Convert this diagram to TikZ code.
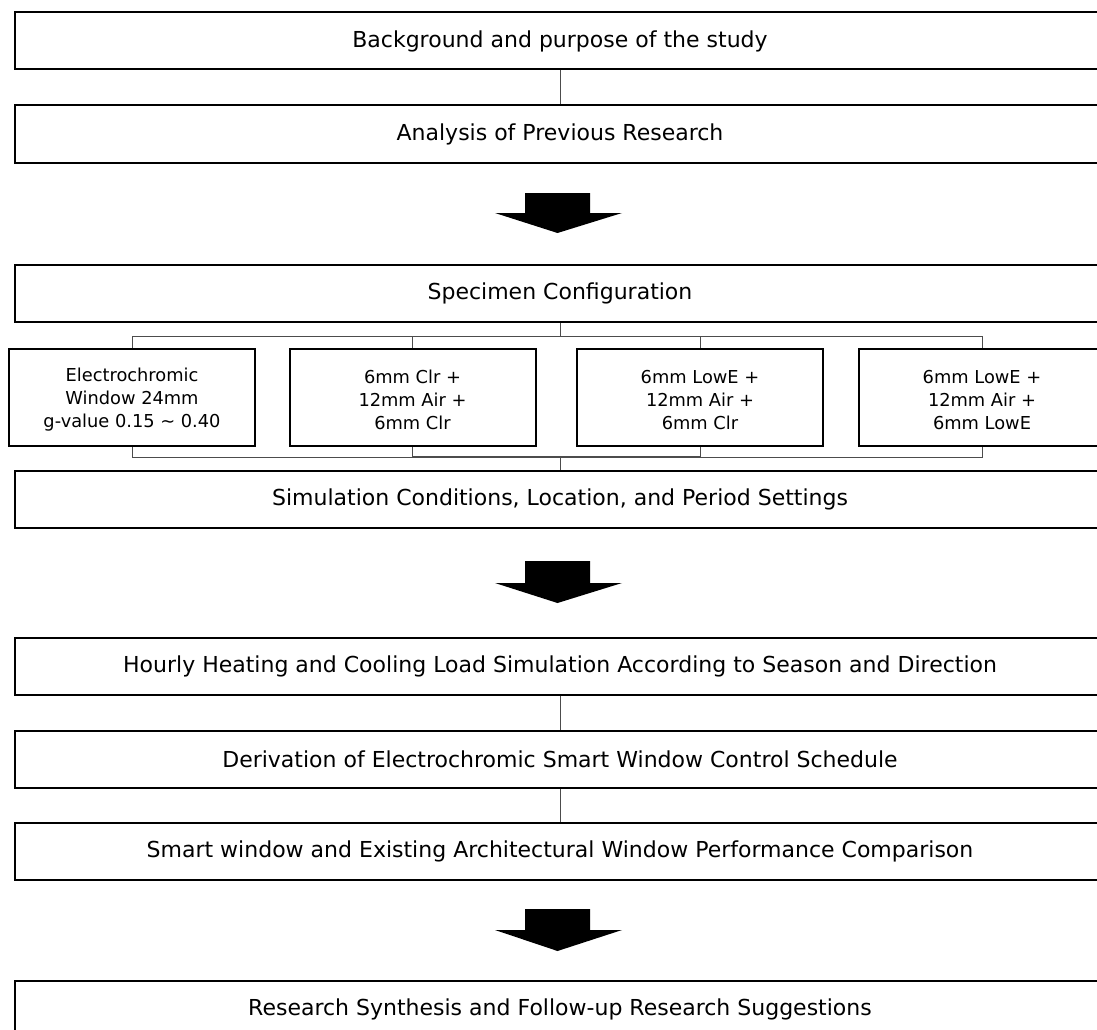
\documentclass[tikz,border=0pt]{standalone}
\usepackage{fontspec}
\setmainfont{DejaVu Sans}
\begin{document}
\begin{tikzpicture}[x=1pt,y=-1pt,
  mainbox/.style={draw=black, line width=2pt, minimum width=1090pt, minimum height=57pt, inner sep=0pt, font=\fontsize{22}{26}\selectfont},
  smallbox/.style={draw=black, line width=2pt, minimum width=246pt, minimum height=97pt, inner sep=0pt},
  smalltext/.style={align=center, inner sep=0pt, font=\fontsize{17.8}{23}\selectfont},
  conn/.style={draw=black!70, line width=1pt},
  blockarrow/.style={fill=black}
]
\useasboundingbox (0,0) rectangle (1097,1030);

% main boxes
\node[mainbox] (A) at (560,41) {Background and purpose of the study};
\node[mainbox] (B) at (560,134) {Analysis of Previous Research};
\node[mainbox] (C) at (560,293.5) {Specimen Configuration};
\node[mainbox] (D) at (560,499) {Simulation Conditions, Location, and Period Settings};
\node[mainbox] (E) at (560,666) {Hourly Heating and Cooling Load Simulation According to Season and Direction};
\node[mainbox] (F) at (560,759) {Derivation of Electrochromic Smart Window Control Schedule};
\node[mainbox] (G) at (560,851.5) {Smart window and Existing Architectural Window Performance Comparison};
\node[mainbox] (H) at (560,1009) {Research Synthesis and Follow-up Research Suggestions};

% small boxes
\node[smallbox] (s1) at (132,397.5) {};
\node[smalltext] (s1t) at (132,400) {Electrochromic\\Window 24mm\\g-value 0.15 ∼ 0.40};
\node[smallbox] (s2) at (412.5,397.5) {};
\node[smalltext] (s2t) at (412.5,400) {6mm Clr +\\12mm Air +\\6mm Clr};
\node[smallbox] (s3) at (700,397.5) {};
\node[smalltext] (s3t) at (700,400) {6mm LowE +\\12mm Air +\\6mm Clr};
\node[smallbox] (s4) at (982,397.5) {};
\node[smalltext] (s4t) at (982,400) {6mm LowE +\\12mm Air +\\6mm LowE};

% simple connectors
\draw[conn] (A.south) -- (B.north);
\draw[conn] (E.south) -- (F.north);
\draw[conn] (F.south) -- (G.north);

% bus to specimen boxes
\coordinate (tb) at (560,336);
\coordinate (bb) at (560,457);
\draw[conn] (C.south) -- (tb);
\draw[conn] (s1.north) -- (s1.north |- tb) -- (s4.north |- tb) -- (s4.north);
\draw[conn] (s2.north) -- (s2.north |- tb);
\draw[conn] (s3.north) -- (s3.north |- tb);
\draw[conn] (s1.south) -- (s1.south |- bb) -- (s4.south |- bb) -- (s4.south);
\draw[conn] (s2.south) -- (s2.south |- bb);
\draw[conn] (s3.south) -- (s3.south |- bb);
\draw[conn, line width=1.7pt] (s2.south |- bb) -- (s3.south |- bb);
\draw[conn] (bb) -- (D.north);

% block arrows
\coordinate (ar1) at (525,193);
\fill[blockarrow] (ar1) -- ++(65,0) -- ++(0,20) -- ++(32,0) -- ++(-64.5,20) -- ++(-62.5,-20) -- ++(30,0) -- cycle;
\coordinate (ar2) at (525,561);
\fill[blockarrow] (ar2) -- ++(65,0) -- ++(0,22) -- ++(32,0) -- ++(-64.5,20) -- ++(-62.5,-20) -- ++(30,0) -- cycle;
\coordinate (ar3) at (525,909);
\fill[blockarrow] (ar3) -- ++(65,0) -- ++(0,21) -- ++(32,0) -- ++(-64.5,21) -- ++(-62.5,-21) -- ++(30,0) -- cycle;
\end{tikzpicture}
\end{document}
